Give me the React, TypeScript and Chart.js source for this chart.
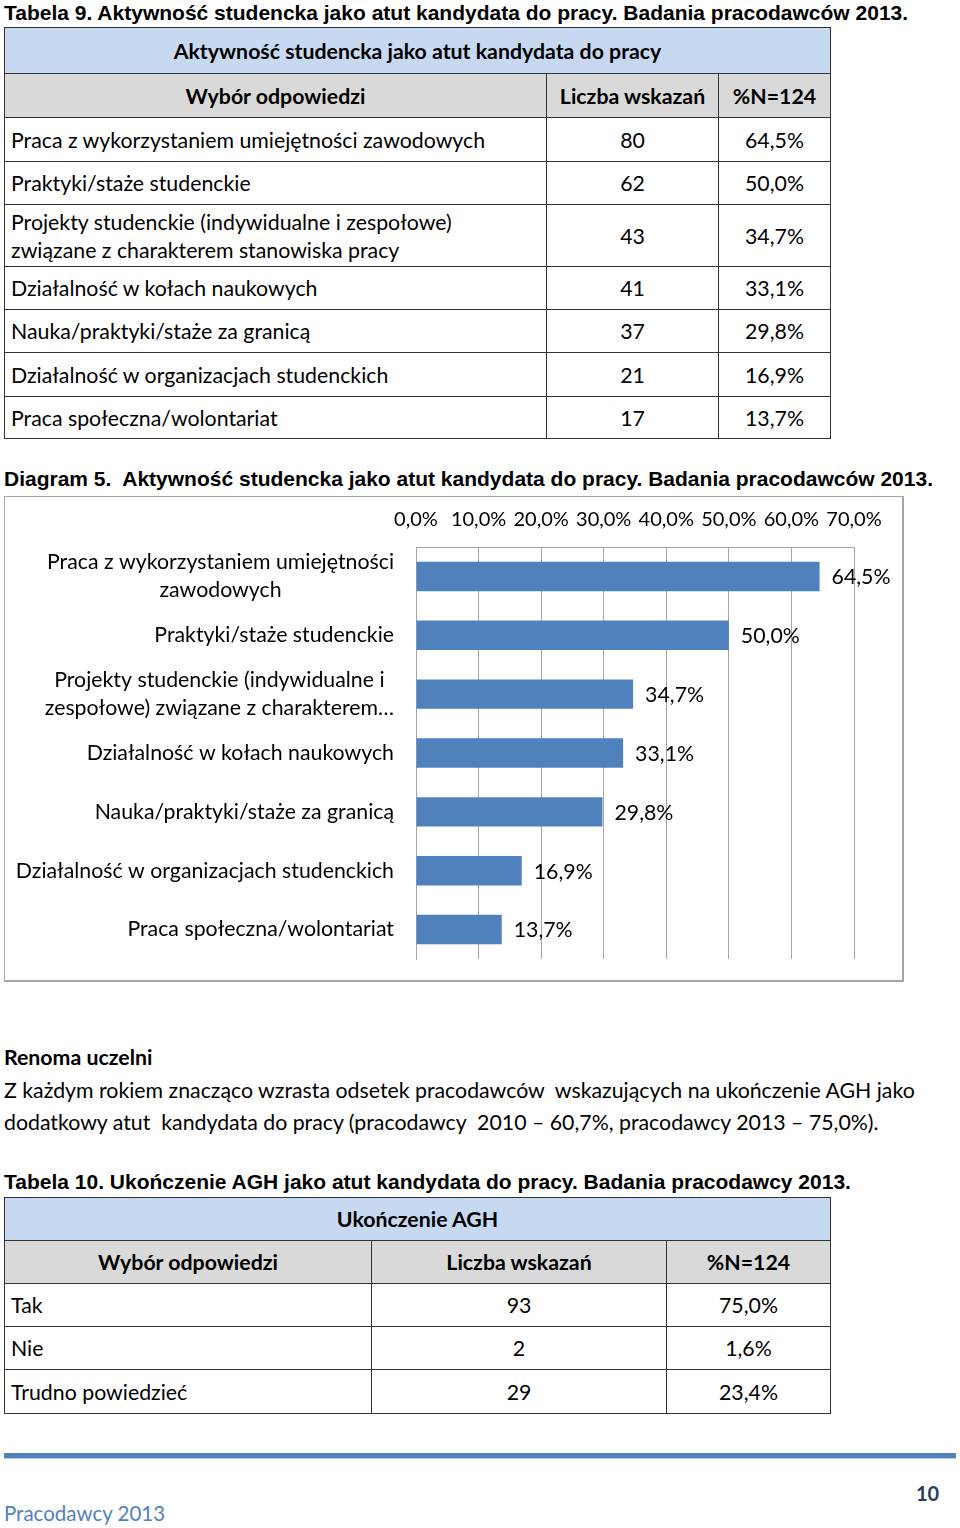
import React, { useEffect, useRef } from "react";
import { Chart, registerables } from "chart.js";

Chart.register(...registerables);

const FONT = "Lato, 'Open Sans', sans-serif";
const HFONT = "'Liberation Sans', Arial, sans-serif";
const BODY = 21.3;

// ---- Table 9 data ----
const t9Answers = [
  "Praca z wykorzystaniem umiejętności zawodowych",
  "Praktyki/staże studenckie",
  "Projekty studenckie (indywidualne i zespołowe)\nzwiązane z charakterem stanowiska pracy",
  "Działalność w kołach naukowych",
  "Nauka/praktyki/staże za granicą",
  "Działalność w organizacjach studenckich",
  "Praca społeczna/wolontariat",
];
const t9Counts = [80, 62, 43, 41, 37, 21, 17];
const t9Percents = ["64,5%", "50,0%", "34,7%", "33,1%", "29,8%", "16,9%", "13,7%"];

// ---- Diagram 5 data ----
const categories: (string | string[])[] = [
  ["Praca z wykorzystaniem umiejętności", "zawodowych"],
  "Praktyki/staże studenckie",
  ["Projekty studenckie (indywidualne i", "zespołowe) związane z charakterem…"],
  "Działalność w kołach naukowych",
  "Nauka/praktyki/staże za granicą",
  "Działalność w organizacjach studenckich",
  "Praca społeczna/wolontariat",
];
const percentValues = [64.5, 50.0, 34.7, 33.1, 29.8, 16.9, 13.7];
const xMin = 0;
const xMax = 70;
const xStep = 10;

// ---- Table 10 data ----
const t10Answers = ["Tak", "Nie", "Trudno powiedzieć"];
const t10Counts = [93, 2, 29];
const t10Percents = ["75,0%", "1,6%", "23,4%"];

const fmtPct = (v: number) => v.toFixed(1).replace(".", ",") + "%";

function Cell(props: {
  x: number; y: number; w: number; h: number; bg?: string;
  align?: "left" | "center"; bold?: boolean; children?: React.ReactNode;
}) {
  const { x, y, w, h, bg, align = "center", bold, children } = props;
  return (
    <div
      style={{
        position: "absolute", left: x, top: y, width: w + 1, height: h + 1,
        boxSizing: "border-box", border: "1px solid #333", background: bg || "#fff",
        display: "flex", alignItems: "center",
        justifyContent: align === "left" ? "flex-start" : "center",
        textAlign: align, paddingLeft: align === "left" ? 6 : 0,
        fontSize: BODY, lineHeight: "28px", fontWeight: bold ? 700 : 400,
        whiteSpace: "pre", color: "#000",
      }}
    >
      {children}
    </div>
  );
}

function Txt(props: { x: number; y: number; size: number; bold?: boolean; font?: string; color?: string; children?: React.ReactNode }) {
  return (
    <div
      style={{
        position: "absolute", left: props.x, top: props.y, fontSize: props.size,
        lineHeight: 1, fontWeight: props.bold ? 700 : 400, fontFamily: props.font || FONT,
        color: props.color || "#000", whiteSpace: "pre",
      }}
    >
      {props.children}
    </div>
  );
}

function BarChart() {
  const ref = useRef<HTMLCanvasElement | null>(null);
  useEffect(() => {
    if (!ref.current) return;
    const labelPlugin = {
      id: "labels",
      afterDraw(chart: any) {
        const ctx = chart.ctx;
        ctx.save();
        ctx.fillStyle = "#000";
        ctx.font = `${BODY}px ${FONT}`;
        ctx.textBaseline = "middle";
        // data labels
        const meta = chart.getDatasetMeta(0);
        ctx.textAlign = "left";
        meta.data.forEach((bar: any, i: number) => {
          ctx.fillText(fmtPct(percentValues[i]), bar.x + 12, bar.y + 1);
        });
        // category labels
        const yScale = chart.scales.y;
        const rightEdge = yScale.right - 22;
        ctx.textAlign = "center";
        categories.forEach((cat, i) => {
          const lines = Array.isArray(cat) ? cat : [cat];
          const maxW = Math.max(...lines.map((l) => ctx.measureText(l).width));
          const cx = rightEdge - maxW / 2;
          const cy = yScale.getPixelForTick(i);
          lines.forEach((l, j) => {
            ctx.fillText(l, cx, cy + (j - (lines.length - 1) / 2) * 28);
          });
        });
        ctx.restore();
      },
    };
    const chart = new Chart(ref.current, {
      type: "bar",
      data: {
        labels: categories as any,
        datasets: [
          {
            data: percentValues,
            backgroundColor: "#4f81bd",
            categoryPercentage: 0.5,
            barPercentage: 1,
          },
        ],
      },
      options: {
        indexAxis: "y",
        animation: false,
        responsive: false,
        maintainAspectRatio: false,
        devicePixelRatio: 1,
        layout: { padding: { top: 0, left: 0, right: 50, bottom: 23 } },
        plugins: { legend: { display: false }, tooltip: { enabled: false } },
        scales: {
          x: {
            position: "top",
            min: xMin,
            max: xMax,
            ticks: {
              stepSize: xStep,
              callback: (v: any) => fmtPct(Number(v)),
              font: { family: FONT, size: 20 },
              color: "#000",
              padding: 15,
              maxRotation: 0,
              autoSkip: false,
            },
            grid: { color: "#a6a6a6", drawTicks: false, lineWidth: 1 },
            border: { color: "#a6a6a6" },
            afterFit: (s: any) => { s.height = 51; },
          },
          y: {
            ticks: { display: false },
            grid: { display: false },
            border: { display: true, color: "#a6a6a6" },
            afterFit: (s: any) => { s.width = 412; },
          },
        },
      } as any,
      plugins: [labelPlugin],
    });
    return () => chart.destroy();
  }, []);
  return (
    <canvas
      ref={ref}
      width={900}
      height={486}
      style={{ position: "absolute", left: 4, top: 496, width: 900, height: 486 }}
    />
  );
}

export default function App() {
  const t9Y = [117, 161, 204, 266, 309, 352, 396, 438];
  const t10Y = [1283, 1326, 1369, 1413];
  return (
    <div
      style={{
        position: "absolute", left: 0, top: 0, width: 960, height: 1528,
        background: "#fff", fontFamily: FONT, overflow: "hidden",
      }}
    >
      <Txt x={4} y={2} size={21} bold font={HFONT}>
        Tabela 9. Aktywność studencka jako atut kandydata do pracy. Badania pracodawców 2013.
      </Txt>

      {/* Table 9 */}
      <Cell x={4} y={27} w={826} h={46} bg="#c6d9f1" bold>Aktywność studencka jako atut kandydata do pracy</Cell>
      <Cell x={4} y={73} w={542} h={44} bg="#d9d9d9" bold>Wybór odpowiedzi</Cell>
      <Cell x={546} y={73} w={172} h={44} bg="#d9d9d9" bold>Liczba wskazań</Cell>
      <Cell x={718} y={73} w={112} h={44} bg="#d9d9d9" bold>%N=124</Cell>
      {t9Answers.map((a, i) => (
        <React.Fragment key={i}>
          <Cell x={4} y={t9Y[i]} w={542} h={t9Y[i + 1] - t9Y[i]} align="left">{a}</Cell>
          <Cell x={546} y={t9Y[i]} w={172} h={t9Y[i + 1] - t9Y[i]}>{String(t9Counts[i])}</Cell>
          <Cell x={718} y={t9Y[i]} w={112} h={t9Y[i + 1] - t9Y[i]}>{t9Percents[i]}</Cell>
        </React.Fragment>
      ))}

      <Txt x={4} y={468} size={21} bold font={HFONT}>
        Diagram 5.  Aktywność studencka jako atut kandydata do pracy. Badania pracodawców 2013.
      </Txt>

      {/* Chart frame */}
      <div
        style={{
          position: "absolute", left: 4, top: 496, width: 900, height: 486,
          boxSizing: "border-box", border: "1px solid #a6a6a6", borderRightWidth: 2, borderBottomWidth: 2,
        }}
      />
      <BarChart />

      <Txt x={4} y={1047} size={BODY} bold>Renoma uczelni</Txt>
      <Txt x={4} y={1080} size={BODY}>Z każdym rokiem znacząco wzrasta odsetek pracodawców  wskazujących na ukończenie AGH jako</Txt>
      <Txt x={4} y={1112} size={BODY}>dodatkowy atut  kandydata do pracy (pracodawcy  2010 – 60,7%, pracodawcy 2013 – 75,0%).</Txt>

      <Txt x={4} y={1171} size={21} bold font={HFONT}>
        Tabela 10. Ukończenie AGH jako atut kandydata do pracy. Badania pracodawcy 2013.
      </Txt>

      {/* Table 10 */}
      <Cell x={4} y={1197} w={826} h={43} bg="#c6d9f1" bold>Ukończenie AGH</Cell>
      <Cell x={4} y={1240} w={367} h={43} bg="#d9d9d9" bold>Wybór odpowiedzi</Cell>
      <Cell x={371} y={1240} w={295} h={43} bg="#d9d9d9" bold>Liczba wskazań</Cell>
      <Cell x={666} y={1240} w={164} h={43} bg="#d9d9d9" bold>%N=124</Cell>
      {t10Answers.map((a, i) => (
        <React.Fragment key={i}>
          <Cell x={4} y={t10Y[i]} w={367} h={t10Y[i + 1] - t10Y[i]} align="left">{a}</Cell>
          <Cell x={371} y={t10Y[i]} w={295} h={t10Y[i + 1] - t10Y[i]}>{String(t10Counts[i])}</Cell>
          <Cell x={666} y={t10Y[i]} w={164} h={t10Y[i + 1] - t10Y[i]}>{t10Percents[i]}</Cell>
        </React.Fragment>
      ))}

      {/* Footer */}
      <div style={{ position: "absolute", left: 4, top: 1453, width: 952, height: 5, background: "#4f81bd" }} />
      <div style={{ position: "absolute", left: 4, top: 1458, width: 952, height: 1, background: "#b8cce4" }} />
      <Txt x={916} y={1483} size={20} bold color="#243f60">10</Txt>
      <Txt x={4} y={1503} size={20.5} color="#4f81bd">Pracodawcy 2013</Txt>
    </div>
  );
}
